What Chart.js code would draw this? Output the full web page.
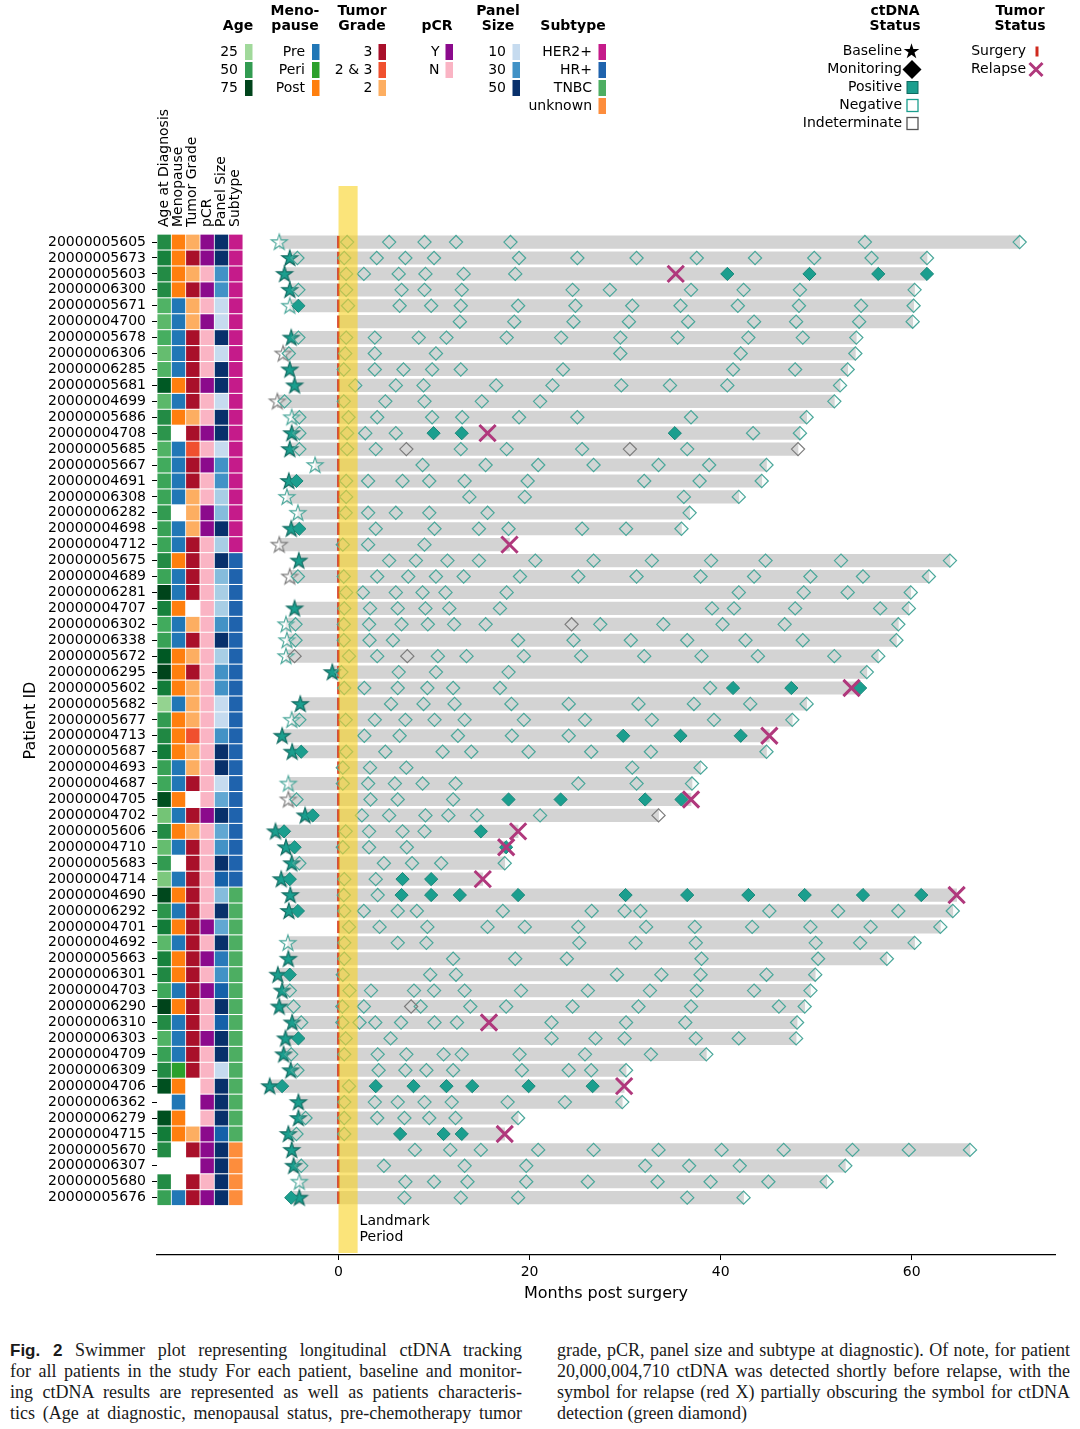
<!DOCTYPE html>
<html><head><meta charset="utf-8">
<script src="https://cdn.jsdelivr.net/npm/chart.js@4/dist/chart.umd.min.js"></script>
<style>
html,body{margin:0;padding:0;background:#fff;width:1080px;height:1429px;overflow:hidden;}
#wrap{position:relative;width:1080px;height:1310px;}
#caption{display:flex;justify-content:space-between;width:1060px;padding:0 10px;margin-top:30px;
 font-family:"Liberation Serif","Times New Roman",serif;font-size:18px;line-height:21px;color:#1a1a1a;}
#caption .col{width:512px;}
#caption .col div{text-align:justify;text-align-last:justify;}
#caption .col div.last{text-align:left;text-align-last:left;}
#caption b{font-family:"Liberation Sans",Arial,sans-serif;font-size:17px;}
</style></head><body>
<div id="wrap"><canvas id="c" width="1080" height="1310"></canvas></div>
<div id="caption">
 <div class="col">
  <div><b>Fig. 2</b> Swimmer plot representing longitudinal ctDNA tracking</div>
  <div>for all patients in the study For each patient, baseline and monitor-</div>
  <div>ing ctDNA results are represented as well as patients characteris-</div>
  <div>tics (Age at diagnostic, menopausal status, pre-chemotherapy tumor</div>
 </div>
 <div class="col" style="width:513px">
  <div>grade, pCR, panel size and subtype at diagnostic). Of note, for patient</div>
  <div>20,000,004,710 ctDNA was detected shortly before relapse, with the</div>
  <div>symbol for relapse (red X) partially obscuring the symbol for ctDNA</div>
  <div class="last">detection (green diamond)</div>
 </div>
</div>
<script>
// ---------------- DATA ----------------
const patientIds = ['20000005605','20000005673','20000005603','20000006300','20000005671','20000004700','20000005678','20000006306','20000006285','20000005681',
'20000004699','20000005686','20000004708','20000005685','20000005667','20000004691','20000006308','20000006282','20000004698','20000004712',
'20000005675','20000004689','20000006281','20000004707','20000006302','20000006338','20000005672','20000006295','20000005602','20000005682',
'20000005677','20000004713','20000005687','20000004693','20000004687','20000004705','20000004702','20000005606','20000004710','20000005683',
'20000004714','20000004690','20000006292','20000004701','20000004692','20000005663','20000006301','20000004703','20000006290','20000006310',
'20000006303','20000004709','20000006309','20000004706','20000006362','20000006279','20000004715','20000005670','20000006307','20000005680',
'20000005676'];

const baselineMonth = [-6.2,-5.1,-5.65,-5.1,-5.1,null,-4.95,-5.8,-5.1,-4.6,
-6.4,-4.9,-4.9,-5.1,-2.45,-5.2,-5.4,-4.25,-4.95,-6.2,
-4.15,-5.1,null,-4.6,-5.5,-5.4,-5.5,-0.65,null,-4.0,
-4.9,-5.9,-4.85,null,-5.25,-5.25,-3.5,-6.6,-5.5,-4.9,
-6.0,-5.05,-5.2,null,-5.3,-5.25,-6.35,-5.9,-6.2,-4.85,
-5.55,-5.75,-5.0,-7.2,-4.2,-4.2,-5.25,-4.9,-4.7,-4.1,
-4.1];
// P = positive, N = negative, I = indeterminate, - = none
const baselineStatus = 'NPPPN-PIPP'+'INPPNPNNPI'+'PI-PNNNP-P'+'NPP-NIPPPP'+'PPP-NPPPPP'+'PPPPPPPPPN'+'P';

const followUpEnd = [71.3,61.6,61.6,60.3,60.2,60.1,54.2,54.1,53.3,52.5,
51.9,49.0,48.3,48.1,44.8,44.3,41.9,36.75,35.9,17.9,
64.0,61.8,59.9,59.7,58.6,58.4,56.5,55.3,54.6,49.0,
47.5,45.1,44.8,37.9,37.0,36.9,33.5,18.8,17.55,17.4,
15.1,64.7,64.3,63.0,60.3,57.4,49.9,49.4,48.8,48.0,
47.9,38.5,30.1,29.9,29.7,18.8,17.4,66.1,53.05,51.1,
42.4];

const relapseMonth = [null,null,35.3,null,null,null,null,null,null,null,
null,null,15.6,null,null,null,null,null,null,17.9,
null,null,null,null,null,null,null,null,53.7,null,
null,45.1,null,null,null,36.9,null,18.8,17.55,null,
15.1,64.7,null,null,null,null,null,null,null,15.75,
null,null,null,29.9,null,null,17.4,null,null,null,
null];

const monitoringMonths = [
[0.9,5.3,9.0,12.3,18.0,55.1,71.3],
[-4.3,0.6,4.0,7.0,10.0,18.9,25.0,31.2,37.5,43.6,49.8,55.8,61.6],
[0.8,2.65,6.3,9.1,13.1,18.5,40.7,49.3,56.5,61.6],
[-4.2,0.8,6.6,9.0,12.9,24.5,28.4,36.9,42.4,48.3,60.3],
[-4.2,1.0,6.4,9.7,12.8,18.8,24.8,30.75,35.8,41.8,48.2,54.7,60.2],
[12.7,18.4,24.6,30.4,36.6,43.5,47.9,54.5,60.1],
[-4.2,0.8,3.8,8.4,11.3,17.6,23.3,29.5,35.5,42.9,48.6,54.2],
[-5.2,0.7,3.8,10.2,29.5,42.1,54.1],
[0.55,3.8,6.8,9.8,12.8,23.5,41.3,47.8,53.3],
[1.75,6.0,8.9,16.5,22.4,29.6,34.7,40.7,52.5],
[-5.65,0.55,4.9,9.0,15.0,21.1,51.9],
[-4.1,1.05,4.05,9.8,12.95,18.9,25.0,36.9,49.0],
[-4.1,0.9,2.8,6.0,9.95,12.9,35.2,43.4,48.3],
[-4.1,0.9,3.9,7.1,12.8,17.6,25.5,30.5,36.5,48.1],
[8.8,15.4,20.9,26.7,33.5,38.8,44.8],
[-4.4,0.8,3.1,6.7,9.5,13.2,19.8,32.0,37.8,44.3],
[0.8,13.7,19.5,36.15,41.9],
[0.75,3.1,6.0,9.5,15.6,36.75],
[-4.1,3.9,10.05,14.7,17.8,25.5,30.1,35.9],
[0.45,3.1,9.0],
[5.3,8.1,11.4,14.7,20.6,26.7,32.8,39.0,44.7,52.6,64.0],
[-4.25,0.55,4.05,7.3,10.2,13.1,19.0,25.1,31.2,37.9,43.5,49.4,54.9,61.8],
[0.8,2.55,6.0,8.8,11.2,17.6,41.9,48.7,53.3,59.9],
[0.6,3.3,6.2,9.1,11.6,16.9,39.1,41.4,47.8,56.7,59.7],
[-4.5,0.55,3.2,6.6,9.35,12.1,15.4,24.4,27.4,34.0,40.2,46.7,58.6],
[-4.5,0.55,3.25,5.7,18.8,24.6,30.6,36.5,42.6,48.6,58.4],
[-4.6,1.1,4.05,7.2,10.4,13.4,19.4,25.4,32.0,38.0,43.9,51.9,56.5],
[0.3,6.3,10.2,17.8,55.3],
[0.6,2.7,6.2,9.3,12.0,16.9,38.9,41.3,47.4,54.6],
[5.5,8.9,12.15,18.1,24.1,31.4,37.2,43.1,49.0],
[-4.1,0.75,3.8,7.0,10.05,13.2,19.4,25.8,32.8,39.3,47.5],
[2.7,6.4,12.5,18.15,24.1,29.8,35.8,42.1],
[-3.9,0.8,4.9,10.9,13.9,19.9,26.45,32.7,44.8],
[0.45,3.3,7.1,30.75,37.9],
[0.45,3.1,5.9,8.8,12.25,25.1,31.2,37.0],
[-4.4,3.35,6.2,12.0,17.8,23.25,32.1,35.9],
[-2.7,2.45,5.3,9.1,11.5,14.5,21.1,33.5],
[-5.7,0.75,3.2,6.7,9.0,14.9],
[-4.6,0.45,3.2,7.15,17.55],
[-4.1,4.75,7.7,10.75,17.4],
[-5.1,0.6,3.9,6.7,9.7],
[0.55,4.1,6.6,9.7,12.7,18.8,30.05,36.5,42.9,48.8,54.9,61.0],
[-4.25,0.6,2.65,6.2,8.2,17.2,26.5,29.95,31.6,45.1,52.3,58.6,64.3],
[1.1,4.3,9.3,15.6,19.5,25.1,32.2,37.3,43.3,49.4,55.7,63.0],
[0.6,6.2,9.2,25.2,31.1,37.4,49.95,54.6,60.3],
[0.6,12.0,18.5,23.9,38.0,50.2,57.4],
[-5.1,0.45,9.6,12.3,29.15,33.8,37.9,44.8,49.9],
[-5.1,1.15,3.4,7.9,10.0,13.2,19.1,26.1,32.6,37.5,43.5,49.4],
[-4.7,0.4,2.65,7.6,8.6,13.8,17.55,24.5,31.4,36.9,46.1,48.8],
[-3.9,0.4,2.2,3.85,6.55,10.05,12.4,22.3,30.1,36.3,48.0],
[-4.2,0.75,5.45,22.3,26.9,29.95,37.4,41.9,47.9],
[-4.95,0.6,4.1,7.1,11.0,12.9,18.95,25.8,32.7,38.5],
[-4.3,4.2,7.0,9.2,12.0,19.2,24.1,26.45,30.1],
[-5.9,1.1,3.9,7.85,11.3,14.0,19.9,26.6],
[0.6,3.8,6.2,9.0,11.85,17.7,23.7,29.7],
[-3.45,0.6,4.05,6.9,9.5,12.25,18.8],
[-4.4,0.6,6.45,11.0,12.9],
[8.0,11.7,14.9,20.9,26.7,33.5,40.1,46.6,53.8,59.7,66.1],
[-3.9,4.75,13.2,19.65,32.1,36.7,42.0,53.05],
[7.0,10.0,13.5,19.65,26.1,33.4,38.95,45.0,51.1],
[-4.95,6.9,12.8,18.8,36.5,42.4]
];
const monitoringStatus = [
'NNNNNNN','NNNNNNNNNNNNN','NNNNNNPPPP','NNNNNNNNNNN','PNNNNNNNNNNNN','NNNNNNNNN','NNNNNNNNNNNN','NNNNNNN','NNNNNNNNN','NNNNNNNNN',
'NNNNNNN','NNNNNNNNN','NNNNPPPNN','NNNINNNINI','NNNNNNN','PNNNNNNNNN','NNNNN','NNNNNN','PNNNNNNN','NNN',
'NNNNNNNNNNN','NNNNNNNNNNNNNN','NNNNNNNNNN','NNNNNNNNNNN','NNNNNNNINNNNN','NNNNNNNNNNN','INNINNNNNNNNN','NNNNN','NNNNNNNPPP','NNNNNNNNN',
'NNNNNNNNNNN','NNNNNPPP','PNNNNNNNN','NNNNN','NNNNNNNN','NNNNPPPP','PNNNNNNI','PNNNNP','PNNNP','NNNNN',
'PNNPP','NNPPPPPPPPPP','PNNNNNNNNNNNN','NNNNNNNNNNNN','NNNNNNNNN','NNNNNNN','PNNNNNNNN','NNNNNNNNNNNN','NNNINNNNNNNN','NNNNNNNNNNN',
'PNNNNNNNN','NNNNNNNNNN','NNNNNNNNN','PNPPPPPP','NNNNNNNN','NNNNNNN','NNPPP','NNNNNNNNNNN','NNNNNNNN','NNNNNNNNN',
'PNNNNN'];

const ageAtDiagnosis = [55,58,55,55,42,40,44,38,42,70,
40,55,52,42,45,47,47,50,48,47,
55,47,75,58,45,48,70,75,60,28,
50,56,60,48,46,72,35,55,38,50,
33,74,52,60,40,58,56,46,75,55,
42,48,55,72,null,72,60,55,null,55,
48];
const menopause = ['Post','Post','Post','Post','Pre','Pre','Pre','Pre','Pre','Post',
'Pre','Post',null,'Pre','Pre','Pre','Pre',null,'Pre','Pre',
'Post','Pre','Pre','Post','Pre','Pre','Post','Post','Post','Pre',
'Post','Post','Post','Pre','Pre','Post','Pre','Post','Pre',null,
'Pre','Post','Pre','Post','Pre','Post','Post','Pre','Post','Pre',
'Pre','Pre','Peri','Post','Pre','Post','Post',null,null,null,
'Pre'];
const tumorGrade = ['2','3','2','3','2','2','3','3','3','3',
'3','2','3','2 & 3','3','3','2','2','2','3',
'3','3','3',null,'2','3','2','3','2','2',
'2','2 & 3','2','2','3',null,'3','2','3','3',
'3','3','3','3','3','3','3','3','3','3',
'3','3','3',null,null,null,'2','3',null,'3',
'3'];
const pCR = ['Y','Y','N','Y','N','Y','N','N','N','Y',
'N','N','Y','N','Y','N','N','Y','Y','N',
'N','N','N','N','N','N','N','N','N','N',
'N','N','N','N','N','N','Y','N','N','N',
'N','N','N','Y','N','Y','N','Y','N','N',
'Y','N','N','N','Y','N','Y','Y','Y','N',
'Y'];
const panelSize = [50,50,30,30,10,10,50,10,50,50,
10,50,50,10,30,30,15,20,50,15,
50,20,15,15,30,50,15,30,30,10,
10,30,50,50,10,25,50,25,30,50,
40,20,50,25,50,35,30,40,50,40,
50,50,10,50,50,50,40,50,50,50,
50];
const subtype = [].concat(Array(20).fill('HER2+'), Array(21).fill('HR+'), Array(16).fill('TNBC'), Array(4).fill('unknown'));

const ageLegend = [25, 50, 75];
const menoLegend = ['Pre', 'Peri', 'Post'];
const gradeLegend = ['3', '2 & 3', '2'];
const pcrLegend = ['Y', 'N'];
const panelLegend = [10, 30, 50];
const subtypeLegend = ['HER2+', 'HR+', 'TNBC', 'unknown'];

const surgeryMonth = 0;
const landmarkStart = 0, landmarkEnd = 2;
const xTickValues = [0, 20, 40, 60];

// ---------------- STYLE ----------------
const GREENS = ['#f7fcf5','#e5f5e0','#c7e9c0','#a1d99b','#74c476','#41ab5d','#238b45','#006d2c','#00441b'];
const BLUES  = ['#f7fbff','#deebf7','#c6dbef','#9ecae1','#6baed6','#4292c6','#2171b5','#08519c','#08306b'];
function hex2rgb(h){return [1,3,5].map(k=>parseInt(h.substr(k,2),16));}
function cmap(stops,t){t=Math.max(0,Math.min(1,t));const p=t*(stops.length-1);const i=Math.min(Math.floor(p),stops.length-2);const f=p-i;
 const a=hex2rgb(stops[i]),b=hex2rgb(stops[i+1]);return 'rgb('+a.map((v,k)=>Math.round(v+(b[k]-v)*f)).join(',')+')';}
const ageColor = v => cmap(GREENS, 0.375 + (v-25)*0.0125);
const panelColor = v => cmap(BLUES, 0.25 + (v-10)*0.01875);
const MENO = {Pre:'#2177b6', Peri:'#2ca02c', Post:'#ff7f0e'};
const GRADE = {'3':'#a9102a', '2 & 3':'#f0502e', '2':'#fdae61'};
const PCR = {Y:'#8b0a8c', N:'#fab4c4'};
const SUBT = {'HER2+':'#c51b8a', 'HR+':'#1f63ad', 'TNBC':'#4dae62', 'unknown':'#fd8d3c'};
const TEAL='#1b9e8e', TEAL_DARK='#0f6a60', TEAL_EDGE='#4aa79a', GRAY_EDGE='#7c7c7c', RELAPSE='#b0387c', SURGERY='#cf2a1e', BARGRAY='#d3d3d3';
const FONT='"DejaVu Sans", sans-serif';

function starPath(g,cx,cy,R){const r=R*0.382;g.beginPath();for(let k=0;k<10;k++){const rad=k%2?r:R;const a=-Math.PI/2+k*Math.PI/5;const px=cx+rad*Math.cos(a),py=cy+rad*Math.sin(a);k?g.lineTo(px,py):g.moveTo(px,py);}g.closePath();}
function starSprite(fill,stroke){const c=document.createElement('canvas');c.width=22;c.height=22;const g=c.getContext('2d');
 starPath(g,11,11.5,8.4);if(fill){g.fillStyle=fill;g.fill();}g.lineWidth=1.1;g.strokeStyle=stroke;g.stroke();return c;}
const STAR_P=starSprite(TEAL,TEAL_DARK), STAR_N=starSprite('rgba(255,255,255,0.5)',TEAL_EDGE), STAR_I=starSprite('rgba(255,255,255,0.5)',GRAY_EDGE);

// ---------------- DATASETS ----------------
const rows = patientIds.map((_, i) => i);
const datasets = [];

// characteristic cells
const cellEdges = [-19, -17.5, -16, -14.5, -13, -11.5], cellW = 1.5, cellGap = 0.08;
const columns = [
 {label:'Age at Diagnosis', values: ageAtDiagnosis, color: ageColor},
 {label:'Menopause', values: menopause, color: v => MENO[v]},
 {label:'Tumor Grade', values: tumorGrade, color: v => GRADE[v]},
 {label:'pCR', values: pCR, color: v => PCR[v]},
 {label:'Panel Size', values: panelSize, color: panelColor},
 {label:'Subtype', values: subtype, color: v => SUBT[v]}
];
columns.forEach((col, k) => {
  const data = [], colors = [];
  col.values.forEach((v, i) => { if (v == null) return;
    data.push({y: i, x: [cellEdges[k] + cellGap, cellEdges[k] + cellW - cellGap]}); colors.push(col.color(v)); });
  datasets.push({type:'bar', indexAxis:'y', grouped:false, barThickness:14.2, data, backgroundColor:colors, borderWidth:0, order:9});
});

// swim lanes
datasets.push({type:'bar', indexAxis:'y', grouped:false, barThickness:12.5, order:8, backgroundColor:BARGRAY, borderWidth:0,
  data: rows.map(i => ({y:i, x:[Math.min(0, baselineMonth[i] ?? 0, monitoringMonths[i][0]), followUpEnd[i]]}))});

// surgery
datasets.push({type:'scatter', order:7, data: rows.map(i => ({x: surgeryMonth, y: i})),
  pointStyle:'line', pointRotation:90, pointRadius:6.2, pointBorderColor:SURGERY, pointBorderWidth:2.6, pointBackgroundColor:SURGERY});

// baseline stars
const bl = {P:[], N:[], I:[]};
rows.forEach(i => { if (baselineMonth[i] == null) return; bl[baselineStatus[i]].push({x: baselineMonth[i], y: i}); });
[['P',STAR_P,6],['N',STAR_N,5],['I',STAR_I,4]].forEach(([s,img,o]) =>
  datasets.push({type:'scatter', order:o, data: bl[s], pointStyle: img, pointRadius: 8}));

// monitoring diamonds
const mon = {P:[], N:[], I:[]};
rows.forEach(i => monitoringMonths[i].forEach((m, k) => { const s = monitoringStatus[i][k] || 'N'; mon[s].push({x: m, y: i}); }));
datasets.push({type:'scatter', order:3, data: mon.N, pointStyle:'rectRot', pointRadius:6.6, pointBorderWidth:1.2, pointBorderColor:TEAL_EDGE, pointBackgroundColor:'rgba(200,230,225,0.12)'});
datasets.push({type:'scatter', order:2, data: mon.I, pointStyle:'rectRot', pointRadius:6.6, pointBorderWidth:1.2, pointBorderColor:GRAY_EDGE, pointBackgroundColor:'rgba(255,255,255,0.05)'});
datasets.push({type:'scatter', order:1, data: mon.P, pointStyle:'rectRot', pointRadius:6.6, pointBorderWidth:1, pointBorderColor:'#17887a', pointBackgroundColor:TEAL});

// relapse
datasets.push({type:'scatter', order:0, data: rows.filter(i => relapseMonth[i] != null).map(i => ({x: relapseMonth[i], y: i})),
  pointStyle:'crossRot', pointRadius:11.5, pointBorderWidth:3, pointBorderColor:RELAPSE});

// ---------------- PLUGIN: legend, headers, landmark ----------------
function drawDiamond(ctx,x,y,r){ctx.beginPath();ctx.moveTo(x-r,y);ctx.lineTo(x,y-r);ctx.lineTo(x+r,y);ctx.lineTo(x,y+r);ctx.closePath();}
const decor = {
  id:'decor',
  afterDatasetsDraw(chart){
    const {ctx, chartArea:ca, scales:{x}} = chart;
    const x0 = x.getPixelForValue(landmarkStart), x1 = x.getPixelForValue(landmarkEnd);
    ctx.save();
    ctx.fillStyle = 'rgba(248,212,40,0.62)';
    ctx.fillRect(x0, ca.top, x1 - x0, ca.bottom - ca.top - 2);
    ctx.fillStyle = '#000'; ctx.font = '14px ' + FONT; ctx.textAlign = 'left'; ctx.textBaseline = 'middle';
    ctx.fillText('Landmark', x1 + 2, 1221); ctx.fillText('Period', x1 + 2, 1237);
    ctx.restore();
  },
  afterDraw(chart){
    const {ctx, scales:{x}} = chart;
    ctx.save();
    ctx.fillStyle = '#000'; ctx.textBaseline = 'middle';
    // rotated column headers
    ctx.font = '14px ' + FONT; ctx.textAlign = 'left';
    columns.forEach((col, k) => {
      const cx = x.getPixelForValue(cellEdges[k] + cellW/2);
      ctx.save(); ctx.translate(cx, 227); ctx.rotate(-Math.PI/2); ctx.fillText(col.label, 0, 0); ctx.restore();
    });
    // legend headers
    ctx.font = 'bold 14px ' + FONT; ctx.textAlign = 'center';
    [[['Age'],238],[['Meno-','pause'],295],[['Tumor','Grade'],362],[['pCR'],437],[['Panel','Size'],498],[['Subtype'],573],
     [['ctDNA','Status'],895],[['Tumor','Status'],1020]].forEach(([lines, hx]) => {
      if (lines.length === 1) ctx.fillText(lines[0], hx, 26.5);
      else { ctx.fillText(lines[0], hx, 11.5); ctx.fillText(lines[1], hx, 26.5); }
    });
    // characteristic legends
    ctx.font = '14px ' + FONT;
    const groups = [
      [238, 245, ageLegend.map(v => [String(v), ageColor(v)])],
      [305, 312, menoLegend.map(k => [k, MENO[k]])],
      [372.5, 378.5, gradeLegend.map(k => [k, GRADE[k]])],
      [439.5, 445.5, pcrLegend.map(k => [k, PCR[k]])],
      [506, 512.5, panelLegend.map(v => [String(v), panelColor(v)])],
      [592, 598.5, subtypeLegend.map(k => [k, SUBT[k]])]
    ];
    groups.forEach(([tr, sx, items]) => items.forEach(([lab, col], k) => {
      const yy = 52 + 18*k;
      ctx.textAlign = 'right'; ctx.fillStyle = '#000'; ctx.fillText(lab, tr, yy);
      ctx.fillStyle = col; ctx.fillRect(sx, yy - 8, 7.5, 16);
    }));
    // ctDNA status legend
    const ctd = ['Baseline','Monitoring','Positive','Negative','Indeterminate'];
    ctd.forEach((lab, k) => { ctx.textAlign = 'right'; ctx.fillStyle = '#000'; ctx.fillText(lab, 902, 51.5 + 18*k); });
    ctx.fillStyle = '#000'; starPath(ctx, 911.5, 51.5, 8.2); ctx.fill();
    drawDiamond(ctx, 912, 69.5, 9.5); ctx.fill();
    ctx.fillStyle = TEAL; ctx.fillRect(907, 81.5, 11, 12); ctx.strokeStyle = TEAL_DARK; ctx.lineWidth = 1; ctx.strokeRect(907, 81.5, 11, 12);
    ctx.strokeStyle = TEAL; ctx.lineWidth = 1.3; ctx.strokeRect(907, 99.5, 11, 12);
    ctx.strokeStyle = '#555'; ctx.strokeRect(907, 117.5, 11, 12);
    // tumor status legend
    ctx.fillStyle = '#000'; ctx.textAlign = 'right';
    ctx.fillText('Surgery', 1026, 51.5); ctx.fillText('Relapse', 1026, 69.5);
    ctx.fillStyle = SURGERY; ctx.fillRect(1035.5, 46.5, 3, 10);
    ctx.strokeStyle = RELAPSE; ctx.lineWidth = 3; ctx.beginPath();
    ctx.moveTo(1029.5, 63); ctx.lineTo(1042.5, 76); ctx.moveTo(1042.5, 63); ctx.lineTo(1029.5, 76); ctx.stroke();
    ctx.restore();
  }
};

// ---------------- CHART ----------------
new Chart(document.getElementById('c'), {
  type: 'scatter',
  data: { datasets },
  plugins: [decor],
  options: {
    responsive: false, animation: false, events: [],
    layout: { padding: { top: 186, right: 25, bottom: 0, left: 0 } },
    plugins: { legend: { display: false }, tooltip: { enabled: false } },
    scales: {
      x: { type:'linear', position:'bottom', min:-19, max:75, offset:false, bounds:'data',
        afterBuildTicks: s => { s.ticks = xTickValues.map(v => ({value: v})); },
        afterFit: s => { s.height = 55; },
        grid: { offset:false, drawOnChartArea:false, drawTicks:true, tickLength:5, tickColor:'#000', tickWidth:1 },
        border: { display:true, color:'#000', width:1.2 },
        ticks: { color:'#000', font:{family:FONT, size:14}, padding:4, maxRotation:0, autoSkip:false },
        title: { display:true, text:'Months post surgery', color:'#000', font:{family:FONT, size:16}, padding:{top:0, bottom:7} }
      },
      y: { type:'linear', position:'left', reverse:true, min:-3.52, max:63.6, offset:false, bounds:'data',
        afterBuildTicks: s => { s.ticks = rows.map(i => ({value: i})); },
        afterFit: s => { s.width = 157; },
        grid: { offset:false, drawOnChartArea:false, drawTicks:true, tickLength:5, tickColor:'#000', tickWidth:1 },
        border: { display:false },
        ticks: { color:'#000', font:{family:FONT, size:14}, padding:6, autoSkip:false, callback: v => patientIds[v] },
        title: { display:true, text:'Patient ID', color:'#000', font:{family:FONT, size:16}, padding:{top:21, bottom:0} }
      }
    }
  }
});
</script>
</body></html>
